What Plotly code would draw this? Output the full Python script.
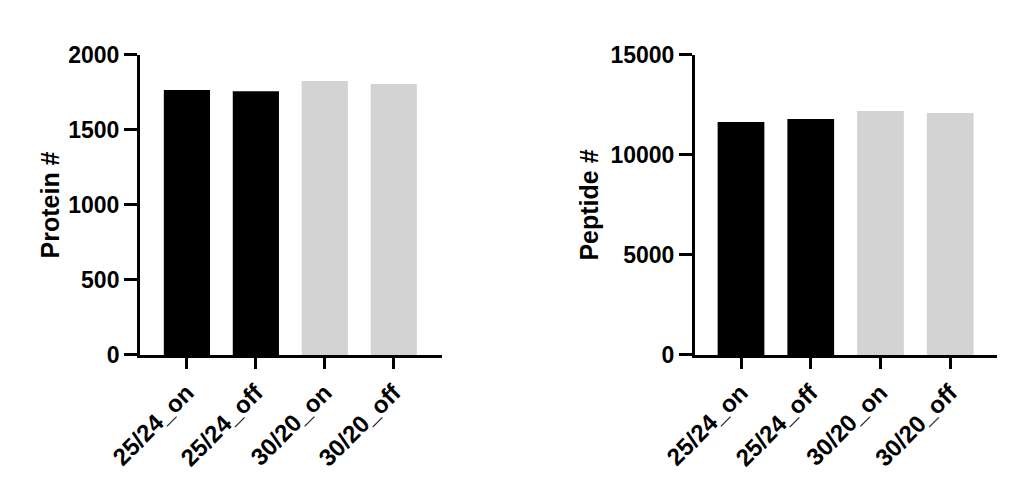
import plotly.graph_objects as go
from plotly.subplots import make_subplots

categories = ["25/24_on", "25/24_off", "30/20_on", "30/20_off"]
protein_counts = [1766, 1759, 1826, 1806]
peptide_counts = [11650, 11800, 12200, 12100]
bar_colors = ["#000000", "#000000", "#d3d3d3", "#d3d3d3"]

fig = make_subplots(rows=1, cols=2)

fig.add_trace(go.Bar(x=categories, y=protein_counts, marker=dict(color=bar_colors, line=dict(width=0)),
                     width=0.67, showlegend=False), row=1, col=1)
fig.add_trace(go.Bar(x=categories, y=peptide_counts, marker=dict(color=bar_colors, line=dict(width=0)),
                     width=0.67, showlegend=False), row=1, col=2)

font_family = "Liberation Sans, Arial, sans-serif"
ytickfont = dict(family=font_family, size=23, color="black", weight="bold")
xtickfont = dict(family=font_family, size=24, color="black", weight="bold")
titlefont = dict(family=font_family, size=25, color="black", weight="bold")

common_x = dict(showline=True, linecolor="black", linewidth=3, ticks="outside", ticklen=11,
                tickwidth=3, tickcolor="black", tickangle=-45, tickfont=xtickfont,
                showgrid=False, zeroline=False, fixedrange=True, automargin=False)
common_y = dict(showline=True, linecolor="black", linewidth=3, ticks="outside", ticklen=13,
                tickwidth=3, tickcolor="black", tickfont=ytickfont, showgrid=False,
                zeroline=False, fixedrange=True, automargin=False, tickformat="d")

fig.update_xaxes(**common_x, range=[-0.68, 3.7], domain=[0.1306, 0.4293], row=1, col=1)
fig.update_xaxes(**common_x, range=[-0.66, 3.67], domain=[0.6795, 0.9782], row=1, col=2)
fig.update_yaxes(**common_y, range=[0, 2000], tickvals=[0, 500, 1000, 1500, 2000],
                 domain=[0.2741, 0.9017], title=dict(text="Protein #", font=titlefont, standoff=2),
                 row=1, col=1)
fig.update_yaxes(**common_y, range=[0, 15000], tickvals=[0, 5000, 10000, 15000],
                 domain=[0.2741, 0.9017], title=dict(text="Peptide #", font=titlefont, standoff=5),
                 row=1, col=2)

fig.update_layout(width=1011, height=478, margin=dict(l=0, r=0, t=0, b=0),
                  plot_bgcolor="white", paper_bgcolor="white", bargap=0.33)

fig.write_html("out.html")
